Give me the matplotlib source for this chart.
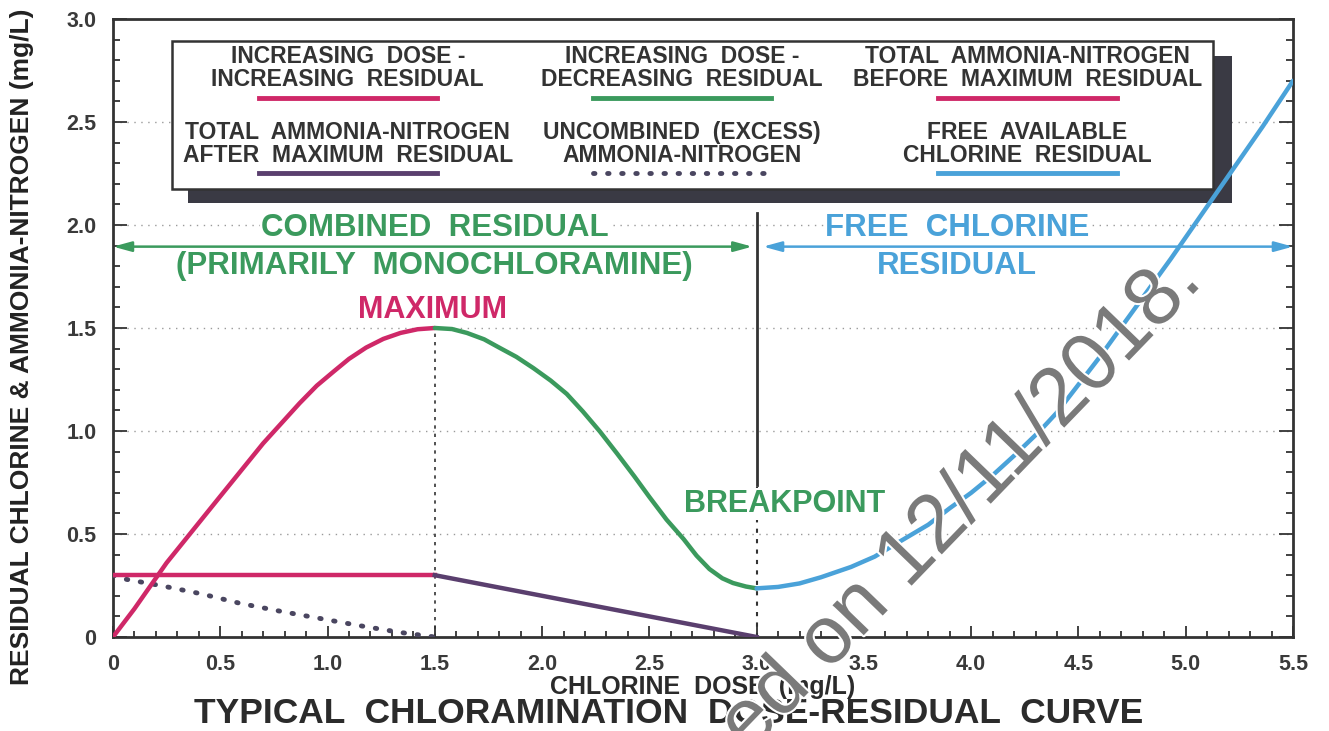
import numpy as np
import matplotlib.pyplot as plt
import matplotlib.patheffects as pe
from matplotlib.patches import Rectangle

plt.rcParams['font.family'] = ['Liberation Sans', 'DejaVu Sans']

# chlorine dose (mg/L) vs residual (mg/L)
rise_x = [0, 0.1, 0.25, 0.49, 0.7, 0.87, 0.95, 1.03, 1.1, 1.18, 1.26, 1.34, 1.42, 1.5]
rise_y = [0, 0.137, 0.36, 0.67, 0.94, 1.135, 1.22, 1.29, 1.35, 1.405, 1.447, 1.476, 1.494, 1.5]

fall_x = [1.5, 1.58, 1.65, 1.73, 1.8, 1.88, 1.96, 2.04, 2.115, 2.19, 2.27, 2.35, 2.43,
          2.5, 2.58, 2.66, 2.72, 2.78, 2.84, 2.89, 2.95, 3.0]
fall_y = [1.5, 1.495, 1.476, 1.445, 1.405, 1.36, 1.305, 1.245, 1.18, 1.095, 0.997, 0.89, 0.78,
          0.68, 0.57, 0.475, 0.395, 0.33, 0.285, 0.262, 0.245, 0.236]

free_x = [3.0, 3.1, 3.2, 3.3, 3.44, 3.55, 3.67, 3.8, 3.9, 4.0, 4.1, 4.2, 4.32, 4.4, 4.5,
          4.6, 4.69, 4.77, 4.85, 4.93, 5.0, 5.08, 5.16, 5.26, 5.36, 5.43, 5.5]
free_y = [0.236, 0.243, 0.26, 0.29, 0.34, 0.39, 0.465, 0.545, 0.625, 0.70, 0.785, 0.88, 1.0,
          1.09, 1.225, 1.36, 1.49, 1.605, 1.72, 1.835, 1.94, 2.06, 2.18, 2.33, 2.48, 2.59, 2.70]

nh3_before_x = [0, 1.5]
nh3_before_y = [0.3, 0.3]
nh3_after_x = [1.5, 3.0]
nh3_after_y = [0.3, 0.0]

excess_x = [0, 0.03, 0.22, 0.41, 0.59, 0.78, 0.965, 1.15, 1.34, 1.5]
excess_y = [0.3, 0.286, 0.25, 0.21, 0.164, 0.125, 0.09, 0.055, 0.022, 0.0]

x_ticks = [0, 0.5, 1.0, 1.5, 2.0, 2.5, 3.0, 3.5, 4.0, 4.5, 5.0, 5.5]
x_tick_labels = ['0', '0.5', '1.0', '1.5', '2.0', '2.5', '3.0', '3.5', '4.0', '4.5', '5.0', '5.5']
y_ticks = [0, 0.5, 1.0, 1.5, 2.0, 2.5, 3.0]
y_tick_labels = ['0', '0.5', '1.0', '1.5', '2.0', '2.5', '3.0']

legend_labels = [
    "INCREASING  DOSE -\nINCREASING  RESIDUAL",
    "INCREASING  DOSE -\nDECREASING  RESIDUAL",
    "TOTAL  AMMONIA-NITROGEN\nBEFORE  MAXIMUM  RESIDUAL",
    "TOTAL  AMMONIA-NITROGEN\nAFTER  MAXIMUM  RESIDUAL",
    "UNCOMBINED  (EXCESS)\nAMMONIA-NITROGEN",
    "FREE  AVAILABLE\nCHLORINE  RESIDUAL",
]

magenta = '#cf2868'
green = '#3b9a5d'
blue = '#4aa2d9'
purple = '#5a3f6e'
dotc = '#4a4660'
dark = '#333333'

legend_colors = [magenta, green, magenta, purple, dotc, blue]
dot_style = (0, (0.3, 2.6))
legend_styles = ['-', '-', '-', '-', dot_style, '-']

fig = plt.figure(figsize=(13.29, 7.31), dpi=100)
ax = fig.add_axes([0.085, 0.1286, 0.8879, 0.8454])
ax.set_xlim(0, 5.5)
ax.set_ylim(0, 3.0)

# grid at the major y levels
for yv in y_ticks[1:-1]:
    ax.axhline(yv, color='#9a9a9a', lw=1, ls=(0, (1, 4)), zorder=0)

# curves
ax.plot(rise_x, rise_y, color=magenta, lw=3.2, zorder=5, solid_capstyle='round', solid_joinstyle='round')
ax.plot(fall_x, fall_y, color=green, lw=3.2, zorder=5, solid_capstyle='round', solid_joinstyle='round')
ax.plot(free_x, free_y, color=blue, lw=3.2, zorder=5, solid_capstyle='round', solid_joinstyle='round')
ax.plot(nh3_before_x, nh3_before_y, color=magenta, lw=3.2, zorder=5)
ax.plot(nh3_after_x, nh3_after_y, color=purple, lw=3.2, zorder=5)
ax.plot(excess_x, excess_y, color=dotc, lw=3.5, ls=dot_style, dash_capstyle='round', zorder=4)

# vertical markers at maximum and breakpoint
ax.plot([1.5, 1.5], [0, 1.5], color=dark, lw=1.2, ls=(0, (2, 3)), zorder=2)
ax.plot([3.0, 3.0], [0, 0.74], color=dark, lw=1.5, ls=(0, (2, 3)), zorder=2)
ax.plot([3.0, 3.0], [0.74, 2.06], color=dark, lw=2, zorder=2)

# region arrows
ax.annotate('', xy=(0.0, 1.895), xytext=(2.98, 1.895),
            arrowprops=dict(arrowstyle='<|-|>,head_length=1.1,head_width=0.3',
                            color=green, lw=1.8, shrinkA=0, shrinkB=0), zorder=6)
ax.annotate('', xy=(3.03, 1.895), xytext=(5.5, 1.895),
            arrowprops=dict(arrowstyle='<|-|>,head_length=1.1,head_width=0.3',
                            color=blue, lw=1.8, shrinkA=0, shrinkB=0), zorder=6)

wbox = dict(facecolor='white', edgecolor='none', pad=0.5)
ax.text(1.50, 1.985, 'COMBINED  RESIDUAL', color=green, fontsize=22.5, fontweight='bold',
        ha='center', va='center', bbox=wbox, zorder=3)
ax.text(1.50, 1.80, '(PRIMARILY  MONOCHLORAMINE)', color=green, fontsize=22.5, fontweight='bold',
        ha='center', va='center', bbox=wbox, zorder=3)
ax.text(3.935, 1.985, 'FREE  CHLORINE', color=blue, fontsize=22.5, fontweight='bold',
        ha='center', va='center', bbox=wbox, zorder=3)
ax.text(3.935, 1.80, 'RESIDUAL', color=blue, fontsize=22.5, fontweight='bold',
        ha='center', va='center', bbox=wbox, zorder=3)
ax.text(1.49, 1.587, 'MAXIMUM', color=magenta, fontsize=22, fontweight='bold',
        ha='center', va='center', zorder=3)
ax.text(3.13, 0.646, 'BREAKPOINT', color=green, fontsize=22, fontweight='bold',
        ha='center', va='center', bbox=wbox, zorder=3)

# legend box with shadow
ax.add_patch(Rectangle((0.064, 0.702), 0.884, 0.238, transform=ax.transAxes,
                       facecolor='#3a3a44', edgecolor='none', zorder=3))
ax.add_patch(Rectangle((0.050, 0.725), 0.882, 0.239, transform=ax.transAxes,
                       facecolor='white', edgecolor=dark, lw=1.8, zorder=4))
col_x = [0.199, 0.482, 0.775]
row_text_y = [0.920, 0.7985]
row_line_y = [0.872, 0.751]
for i, lab in enumerate(legend_labels):
    r, c = divmod(i, 3)
    ax.text(col_x[c], row_text_y[r], lab, transform=ax.transAxes, ha='center', va='center',
            fontsize=16.5, fontweight='bold', color=dark, linespacing=1.0, zorder=5)
    ax.plot([col_x[c] - 0.0755, col_x[c] + 0.0755], [row_line_y[r]] * 2, transform=ax.transAxes,
            color=legend_colors[i], lw=3.5, ls=legend_styles[i], dash_capstyle='round', zorder=5)

# axes styling
for s in ax.spines.values():
    s.set_color(dark)
    s.set_linewidth(2)
ax.set_xticks(x_ticks)
ax.set_xticklabels(x_tick_labels)
ax.set_xticks(np.arange(0, 5.51, 0.1), minor=True)
ax.set_yticks(y_ticks)
ax.set_yticklabels(y_tick_labels)
ax.set_yticks(np.arange(0, 3.01, 0.1), minor=True)
ax.tick_params(which='both', direction='in', top=False, right=True, color=dark,
               labelcolor='#3a3a3a', labelsize=15.5, width=1.3)
ax.tick_params(axis='y', which='major', length=10, pad=12)
ax.tick_params(axis='y', which='minor', length=5)
ax.tick_params(axis='x', which='major', length=8, pad=12)
ax.tick_params(axis='x', which='minor', length=4)
for lbl in ax.get_xticklabels() + ax.get_yticklabels():
    lbl.set_fontweight('bold')

ax.set_xlabel('CHLORINE  DOSE  (mg/L)', fontsize=18, fontweight='bold', color='#2b2b2b', labelpad=0)
fig.text(0.0166, 0.525, 'RESIDUAL CHLORINE & AMMONIA-NITROGEN (mg/L)', rotation=90,
         ha='center', va='center', fontsize=19, fontweight='bold', color='#222222')
fig.text(0.503, 0.0233, 'TYPICAL  CHLORAMINATION  DOSE-RESIDUAL  CURVE', ha='center', va='center',
         fontsize=25.5, fontweight='bold', color='#2b2b2b')

# watermark
fig.text(0.5636, -0.0315, 'ed on 12/11/2018.', rotation=46, rotation_mode='anchor',
         ha='left', va='baseline', fontsize=59, color='#7a7a7a', zorder=10,
         path_effects=[pe.withStroke(linewidth=3, foreground='white')])

fig.savefig('out.png', dpi=100)
